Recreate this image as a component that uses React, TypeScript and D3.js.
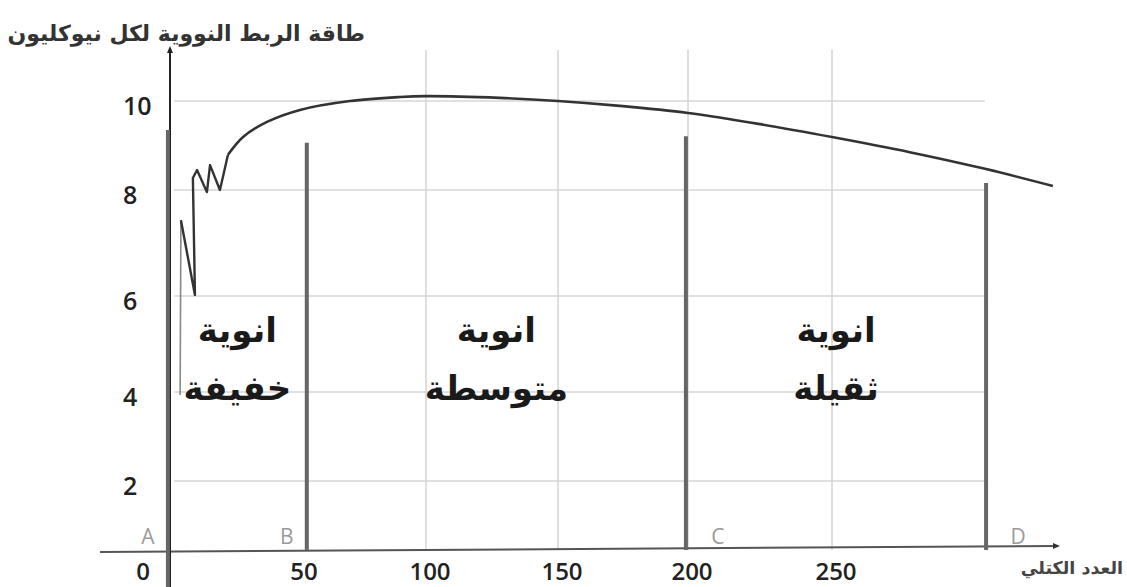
import React from "react";
import * as d3 from "d3";

// ---- data ----
const xTickValues = [0, 50, 100, 150, 200, 250];
const yTickValues = [0, 2, 4, 6, 8, 10];
const xGridValues = [100, 150, 200, 250];
const yGridValues = [2, 4, 6, 8, 10];

// mass number (A) and binding energy per nucleon for the curve
const spikyMass = [3.9, 4.2, 9.6, 8.8, 10.4, 14.2, 15.4, 19.2, 22.3];
const spikyEnergy = [3.93, 7.43, 6.02, 8.27, 8.45, 7.96, 8.56, 8.0, 8.79];
const smoothMass = [22.3, 28.1, 37.3, 50, 69.8, 89.7, 100, 128, 150, 173.8, 200, 225, 250, 277, 303.5, 326.7];
const smoothEnergy = [8.79, 9.19, 9.53, 9.8, 10.0, 10.09, 10.11, 10.07, 10.0, 9.89, 9.73, 9.48, 9.19, 8.85, 8.47, 8.09];

const boundaryLabels = ["A", "B", "C", "D"];
const boundaryMass = [-0.8, 52.7, 199.2, 303.5];
const boundaryTop = [9.35, 9.06, 9.21, 8.16];

const regionLine1 = ["انوية", "انوية", "انوية"];
const regionLine2 = ["خفيفة", "متوسطة", "ثقيلة"];

const yTitle = "طاقة الربط النووية لكل نيوكليون";
const xTitle = "العدد الكتلي";

// ---- scales (hand-drawn axes are unevenly spaced) ----
const x = d3.scaleLinear().domain([0, 50, 100, 150, 200, 250]).range([170, 300, 426, 558, 688, 832]);
const y = d3.scaleLinear().domain([0, 2, 4, 6, 8, 10]).range([550, 481, 392, 296, 190, 101]);

const numFont = "'Open Sans', 'DejaVu Sans', sans-serif";
const arFont = "'DejaVu Sans', sans-serif";

export default function App() {
  const spiky = d3.zip(spikyMass, spikyEnergy) as [number, number][];
  const smooth = d3.zip(smoothMass, smoothEnergy) as [number, number][];
  const lineLin = d3.line<[number, number]>().x((d) => x(d[0])).y((d) => y(d[1]));
  const lineSmooth = d3
    .line<[number, number]>()
    .x((d) => x(d[0]))
    .y((d) => y(d[1]))
    .curve(d3.curveCatmullRom.alpha(0.5));

  const x0 = x(0);
  const y0 = y(0);
  const gridRight = 985;
  const gridTop = 50;
  const bx = boundaryMass.map((m) => x(m));

  return (
    <svg
      width={1127}
      height={587}
      style={{ position: "absolute", left: 0, top: 0, background: "#fff", display: "block" }}
    >
      <rect x={0} y={0} width={1127} height={587} fill="#fff" />
      {/* grid */}
      {yGridValues.map((v) => (
        <line key={"gy" + v} x1={x0 + 4} x2={gridRight} y1={y(v)} y2={y(v)} stroke="#d6d6d6" strokeWidth={1.6} />
      ))}
      {xGridValues.map((v) => (
        <line key={"gx" + v} x1={x(v)} x2={x(v)} y1={gridTop} y2={y0} stroke="#d6d6d6" strokeWidth={1.6} />
      ))}

      {/* x axis */}
      <line x1={100} x2={1056} y1={y0 + 2} y2={y0 - 4} stroke="#555" strokeWidth={2} />
      <path d={`M1060,${y0 - 4} l-7,-3 l0,6 z`} fill="#333" />
      {/* y axis */}
      <line x1={x0} x2={x0} y1={50} y2={587} stroke="#222" strokeWidth={2} />
      <path d={`M${x0},46 l-3,7 l6,0 z`} fill="#222" />

      {/* boundaries */}
      {boundaryLabels.map((lab, i) => (
        <line
          key={"b" + lab}
          x1={bx[i]}
          x2={bx[i]}
          y1={y(boundaryTop[i])}
          y2={i === 0 ? 587 : y0}
          stroke="#666"
          strokeWidth={4}
        />
      ))}
      {boundaryLabels.map((lab, i) => {
        const right = i >= 2;
        return (
          <text
            key={"bl" + lab}
            x={bx[i] + (right ? 32 : -20)}
            y={y0 - 14}
            textAnchor="middle"
            dominantBaseline="central"
            fontFamily={numFont}
            fontSize={21}
            fill="#9a9a9a"
          >
            {lab}
          </text>
        );
      })}

      {/* curve */}
      <path d={lineLin(spiky.slice(0, 2)) || ""} fill="none" stroke="#888" strokeWidth={1.6} />
      <path d={lineLin(spiky.slice(1)) || ""} fill="none" stroke="#333" strokeWidth={2.4} strokeLinejoin="round" />
      <path d={lineSmooth(smooth) || ""} fill="none" stroke="#333" strokeWidth={2.6} />

      {/* region labels */}
      {regionLine1.map((t, i) => {
        const cx = (bx[i] + bx[i + 1]) / 2;
        return (
          <g key={"r" + i}>
            <text x={cx} y={y(5.3)} textAnchor="middle" dominantBaseline="central" fontFamily={arFont} fontSize={34} fontWeight="bold" fill="#1a1a1a">
              {t}
            </text>
            <text x={cx} y={y(4.08)} textAnchor="middle" dominantBaseline="central" fontFamily={arFont} fontSize={34} fontWeight="bold" fill="#1a1a1a">
              {regionLine2[i]}
            </text>
          </g>
        );
      })}

      {/* x tick labels */}
      {xTickValues.map((v) => (
        <text
          key={"xt" + v}
          x={x(v) + (v === 0 ? -27 : 4)}
          y={570}
          textAnchor="middle"
          dominantBaseline="central"
          fontFamily={numFont}
          fontSize={24}
          fontWeight={600}
          fill="#222"
        >
          {v}
        </text>
      ))}
      {/* y tick labels */}
      {yTickValues
        .filter((v) => v > 0)
        .map((v) => (
          <text
            key={"yt" + v}
            x={123}
            y={y(v) + 4}
            textAnchor="start"
            dominantBaseline="central"
            fontFamily={numFont}
            fontSize={25}
            fontWeight={600}
            fill="#222"
          >
            {v}
          </text>
        ))}

      {/* titles */}
      <text x={365} y={33} textAnchor="end" dominantBaseline="central" fontFamily={arFont} fontSize={22} fontWeight="bold" fill="#333">
        {yTitle}
      </text>
      <text x={1123} y={568} textAnchor="end" dominantBaseline="central" fontFamily={arFont} fontSize={17.5} fontWeight="bold" fill="#444">
        {xTitle}
      </text>
    </svg>
  );
}
